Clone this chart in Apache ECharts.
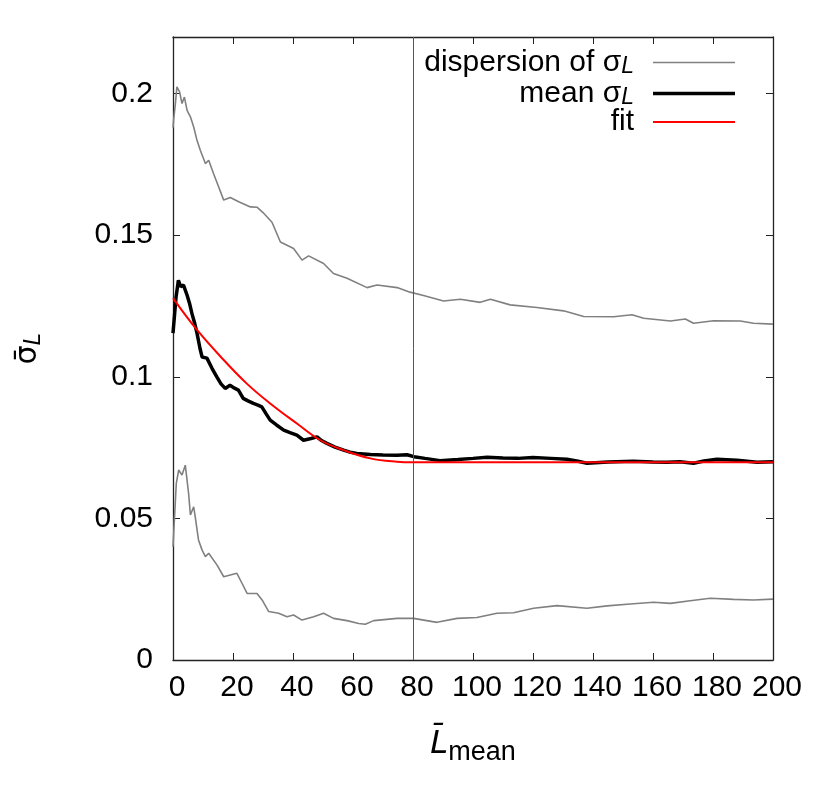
<!DOCTYPE html>
<html>
<head>
<meta charset="utf-8">
<script src="https://cdn.jsdelivr.net/npm/echarts@6/dist/echarts.min.js"></script>
<style>
html,body{margin:0;padding:0;background:#fff;}
#linechart{width:830px;height:793px;}
</style>
</head>
<body>
<div id="linechart"></div>
<script>
// values, [L, sigma]
var dispUpper = [[0,0.188],[0.2,0.1906],[0.8,0.1965],[1.3,0.2024],[2.2,0.2006],[3,0.1965],[3.8,0.1988],[4.7,0.1941],[5.8,0.1918],[6.9,0.1882],[8,0.1835],[9.1,0.18],[10.8,0.1753],[11.9,0.1765],[13.5,0.1718],[15.2,0.1671],[16.9,0.1624],[19.1,0.1633],[21.9,0.1618],[25.8,0.160],[28,0.1599],[30,0.158],[33,0.1546],[35.8,0.1476],[40.2,0.1453],[43,0.1412],[45.2,0.1427],[50.2,0.140],[53.5,0.1365],[58,0.1348],[64.7,0.1315],[68,0.1324],[74.7,0.1315],[79,0.1299],[83.5,0.1287],[90.2,0.1268],[95.8,0.1274],[102.4,0.1263],[105.8,0.1274],[112.4,0.1254],[121.3,0.1245],[130.2,0.1233],[136.9,0.1213],[146.9,0.1212],[153,0.1219],[156.9,0.1207],[165.8,0.1197],[170.8,0.1204],[173.5,0.1189],[180.2,0.1198],[189.1,0.1197],[193.5,0.1189],[200,0.1186]]

var dispLower = [[0,0.040],[0.2,0.040],[1.1,0.0624],[1.9,0.0671],[3,0.0653],[4.1,0.0688],[5.2,0.0588],[5.8,0.0512],[6.9,0.0541],[7.4,0.0506],[8.5,0.0424],[9.7,0.0388],[10.8,0.0365],[11.9,0.0377],[14.7,0.0335],[16.9,0.0294],[19.1,0.030],[21.3,0.0306],[23,0.0271],[24.7,0.0235],[28,0.0235],[29.7,0.0212],[31.9,0.0171],[35.2,0.0165],[38,0.0153],[40.2,0.0159],[43,0.0141],[46.9,0.0153],[50.2,0.0165],[53.5,0.0147],[58,0.0139],[61.9,0.0129],[64.1,0.0126],[66.9,0.0139],[74.7,0.0147],[80.2,0.0147],[88,0.0133],[94.7,0.0147],[101.3,0.015],[108,0.0165],[113.5,0.0167],[120.2,0.0183],[128,0.0192],[138,0.0183],[144.7,0.0191],[152.4,0.0198],[160.2,0.0204],[165.8,0.02],[172.4,0.0209],[179.1,0.0218],[186.9,0.0214],[193.5,0.0212],[200,0.0215]]

var meanSigma = [[0,0.1154],[0.4,0.1154],[1,0.128],[1.8,0.1341],[2.6,0.1318],[3.5,0.1324],[4.7,0.1288],[5.5,0.126],[6.3,0.1224],[7.2,0.119],[8,0.1154],[9,0.110],[9.7,0.107],[11.3,0.1066],[13,0.103],[14.6,0.1000],[16,0.0975],[17.4,0.0959],[19,0.097],[20.5,0.096],[21.8,0.0953],[23.4,0.0924],[25,0.0915],[26.8,0.0906],[28.3,0.0900],[29.6,0.0894],[31,0.087],[32.4,0.0847],[34.5,0.083],[36.9,0.0812],[39,0.0803],[41.3,0.0794],[43.5,0.0776],[46,0.0782],[48,0.0788],[49.5,0.0775],[51.3,0.0765],[54,0.0752],[56.9,0.0741],[59,0.0734],[61.3,0.0729],[65.8,0.0726],[70,0.0724],[74.7,0.0723],[78,0.0725],[80.3,0.0718],[84,0.0712],[89,0.0704],[95,0.0708],[100,0.0712],[104.7,0.0716],[110,0.0713],[115,0.0712],[120,0.0715],[126,0.0712],[131.3,0.0709],[135,0.0702],[138,0.0695],[145,0.0699],[153.4,0.0702],[160,0.0699],[164.7,0.0698],[169,0.0700],[173.5,0.0695],[177,0.0703],[181.3,0.0709],[188,0.0705],[194.7,0.0698],[200,0.070]]

var fitSigma = [[0,0.1278],[7.6,0.1171],[15.9,0.1071],[24.6,0.0976],[32.4,0.0906],[41.3,0.0835],[49.1,0.0776],[56.9,0.0741],[65.8,0.0712],[74.7,0.0700],[80,0.0698],[200,0.0698]]

var xTicks = {min:0, max:200, step:20}
var yTicks = {min:0, max:0.22, step:0.05}
var markX = 80

var font = '"Liberation Sans", Arial, Helvetica, sans-serif'
var legendNames = {
    disp:'{a|dispersion of σ}{s|L}{g|}',
    mean:'{a|mean σ}{s|L}{g|}',
    fit:'{a|fit}{g|}'
}

var chart = echarts.init(document.getElementById('linechart'))

var tickStyle = {show:true, inside:true, length:7, lineStyle:{color:'#222', width:1}}
var borderLine = {show:true, onZero:false, lineStyle:{color:'#222', width:1.3}}

var options = {
    animation:false,
    backgroundColor:'#fff',
    textStyle:{fontFamily:font},
    grid:{left:173, right:57, top:37, bottom:133},
    legend:{
        // thin bars as keys, like gnuplot line samples
        data:[
            {name:'disp', icon:'path://M0 0H100V2H0Z'},
            {name:'mean', icon:'path://M0 0H100V4H0Z'},
            {name:'fit', icon:'path://M0 0H100V2.6H0Z'}
        ],
        orient:'vertical',
        align:'right',
        right:90,
        top:40,
        itemWidth:82,
        itemHeight:14,
        itemGap:-2,
        formatter:function(n){ return legendNames[n] },
        textStyle:{
            color:'#000',
            rich:{
                a:{fontSize:30, fontFamily:font, color:'#000', lineHeight:31},
                s:{fontSize:23, fontFamily:font, fontStyle:'italic', color:'#000', verticalAlign:'bottom', lineHeight:31, padding:[10,0,0,0]},
                g:{width:14}
            }
        }
    },
    xAxis:[{
        type:'value', min:xTicks.min, max:xTicks.max, interval:xTicks.step,
        axisLine:borderLine, axisTick:tickStyle, splitLine:{show:false},
        axisLabel:{fontSize:30, color:'#000', margin:13, fontFamily:font, padding:[0,0,0,8]},
        name:'{l|L\u0304}{s|mean}',
        nameLocation:'middle',
        nameGap:64,
        nameTextStyle:{
            rich:{
                l:{fontSize:32, fontStyle:'italic', fontFamily:'"DejaVu Sans", sans-serif', color:'#000'},
                s:{fontSize:27, fontFamily:font, color:'#000', verticalAlign:'bottom', padding:[15,0,0,0]}
            }
        }
    },{
        type:'value', position:'top', min:xTicks.min, max:xTicks.max, interval:xTicks.step,
        axisLine:borderLine, axisTick:tickStyle, axisLabel:{show:false}, splitLine:{show:false}
    }],
    yAxis:[{
        type:'value', min:yTicks.min, max:yTicks.max, interval:yTicks.step,
        axisLine:borderLine, axisTick:tickStyle, splitLine:{show:false},
        axisLabel:{fontSize:30, color:'#000', margin:20, fontFamily:font, showMaxLabel:false},
        name:'{a|σ\u0304}{s|L}',
        nameLocation:'middle',
        nameRotate:90,
        nameGap:128,
        nameTextStyle:{
            rich:{
                a:{fontSize:30, fontFamily:'"DejaVu Sans", sans-serif', color:'#000'},
                s:{fontSize:23, fontStyle:'italic', fontFamily:font, color:'#000', verticalAlign:'bottom', padding:[11,0,0,0]}
            }
        }
    },{
        type:'value', position:'right', min:yTicks.min, max:yTicks.max, interval:yTicks.step,
        axisLine:borderLine, axisTick:tickStyle, axisLabel:{show:false}, splitLine:{show:false}
    }],
    series:[{
        name:'disp', type:'line', data:dispUpper, symbol:'none',
        lineStyle:{color:'#808080', width:1.6}, itemStyle:{color:'#808080'}, z:2,
        markLine:{
            silent:true, symbol:'none', label:{show:false},
            lineStyle:{color:'#555', width:1, type:'solid'},
            data:[{xAxis:markX}]
        }
    },{
        name:'disp', type:'line', data:dispLower, symbol:'none',
        lineStyle:{color:'#808080', width:1.6}, itemStyle:{color:'#808080'}, z:2
    },{
        name:'mean', type:'line', data:meanSigma, symbol:'none',
        lineStyle:{color:'#000', width:3.5}, itemStyle:{color:'#000'}, z:3
    },{
        name:'fit', type:'line', data:fitSigma, symbol:'none', smooth:0.4,
        lineStyle:{color:'#f00', width:2}, itemStyle:{color:'#f00'}, z:4
    }]
}

chart.setOption(options)
</script>
</body>
</html>
